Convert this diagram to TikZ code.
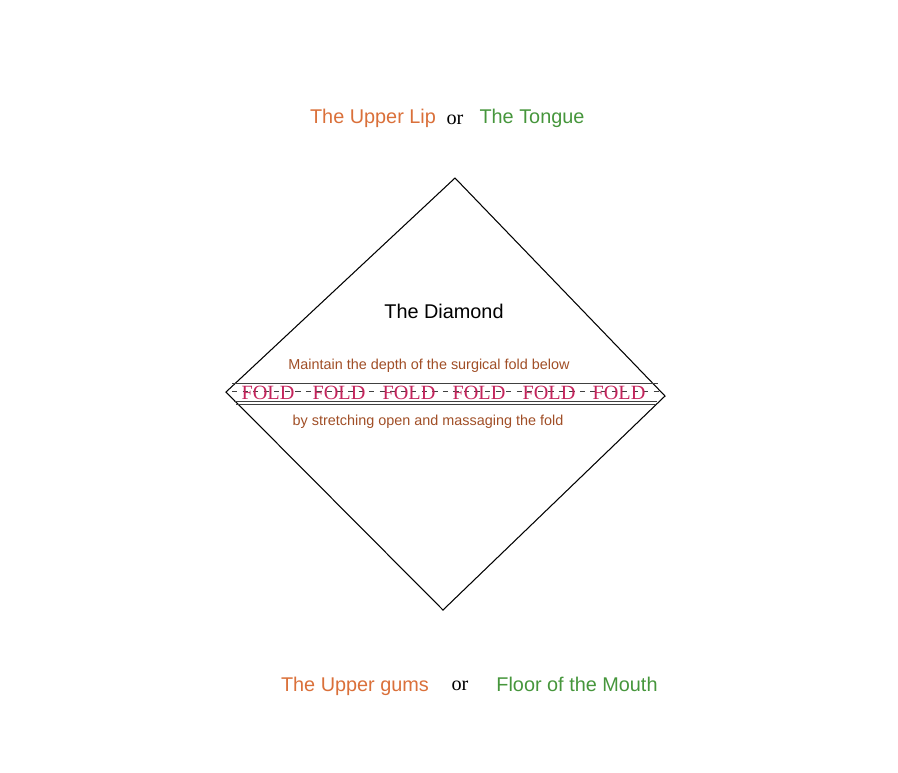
\documentclass[tikz,border=0pt]{standalone}
\usepackage{fontspec}
\setmainfont{Liberation Serif}
\newfontfamily\arialfont{Liberation Sans}
\definecolor{lipcolor}{RGB}{218,112,58}
\definecolor{tonguecolor}{RGB}{70,150,60}
\definecolor{notecolor}{RGB}{160,78,38}
\definecolor{foldcolor}{RGB}{196,36,92}
\tikzset{
  site/.style={font=\arialfont\fontsize{11.3}{13}\selectfont},
  ortext/.style={font=\fontsize{11.5}{13}\selectfont},
  note/.style={font=\arialfont\fontsize{8.2}{10}\selectfont,text=notecolor},
  foldword/.style={font=\fontsize{11.5}{13}\selectfont,text=foldcolor},
  foldline/.style={line width=0.5pt,black!75}
}
\begin{document}
\begin{tikzpicture}[x=0.02cm,y=-0.02cm]
    \useasboundingbox (0,0) rectangle (898,772);
    % the diamond
    \coordinate (top) at (455,178);
    \coordinate (right) at (665,396);
    \coordinate (bottom) at (443,610);
    \coordinate (left) at (226,392);
    \draw[line width=0.6pt] (top) -- (right) -- (bottom) -- (left) -- cycle;
    % the fold
    \draw[foldline] (232,383) -- (658,383);
    \draw[foldline,dashed,line width=0.4pt] (232,391) -- (660,391);
    \draw[foldline] (234,401) -- (657,401);
    \draw[foldline,line width=0.4pt] (236,404) -- (655,404);
    \foreach \x [count=\i] in {268,339,409,479,549,619}
      \node[foldword] (fold\i) at (\x,393) {FOLD};
    % labels
    \node[site,text=lipcolor] (lip) at (373,118) {The Upper Lip};
    \node[ortext] (or1) at (455,120) {or};
    \node[site,text=tonguecolor] (tongue) at (532,118) {The Tongue};
    \node[site] (diamond) at (444,311) {The Diamond};
    \node[note] (depth) at (429,366) {Maintain the depth of the surgical fold below};
    \node[note] (stretch) at (428,422) {by stretching open and massaging the fold};
    \node[site,text=lipcolor] (gums) at (355,686) {The Upper gums};
    \node[ortext] (or2) at (460,686) {or};
    \node[site,text=tonguecolor] (floor) at (577,684) {Floor of the Mouth};
  \end{tikzpicture}
\end{document}
